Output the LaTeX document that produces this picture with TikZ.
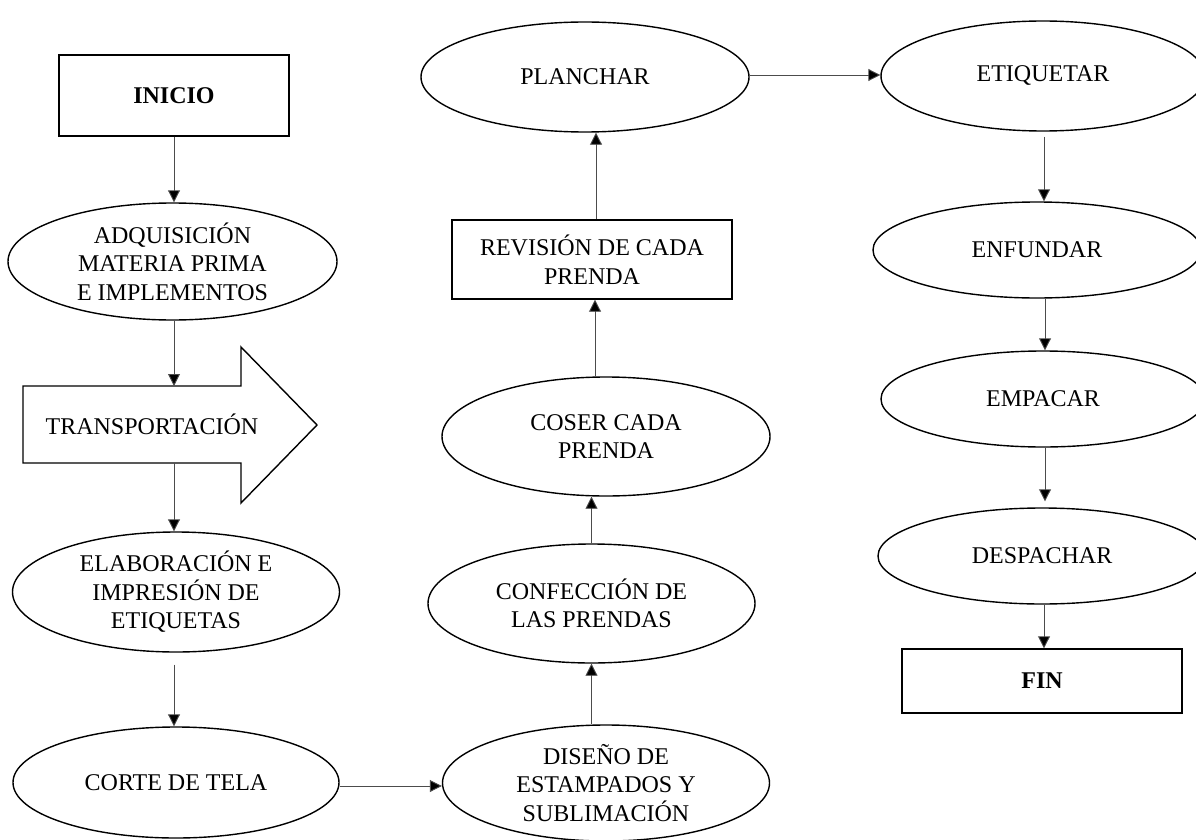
\documentclass[tikz,border=0pt]{standalone}
\usepackage{fontspec}
\setmainfont{Liberation Serif}
\usetikzlibrary{shapes.geometric,arrows.meta}
\begin{document}
\begin{tikzpicture}[x=1pt,y=-1pt,
  every node/.style={font=\fontsize{24}{28.5}\selectfont, align=center, inner sep=0pt},
  ell/.style={draw, ellipse, line width=1.4pt},
  box/.style={draw, rectangle, line width=1.4pt},
  arr/.style={draw=black!70, line width=0.9pt, -{Triangle[length=12pt,width=12pt,fill=black]}}]
\useasboundingbox (0,0) rectangle (1196,840);
\begin{scope}
\clip (0,0) rectangle (1196,840);
% left column
\node[box, minimum width=230, minimum height=81] (inicio) at (174,95.5) {\textbf{INICIO}};
\node[ell, minimum width=329, minimum height=117] (adq) at (172.5,261.5) {ADQUISICIÓN\\MATERIA PRIMA\\E IMPLEMENTOS};
\draw[line width=1.4pt, line join=miter] (23,386) -- (241,386) -- (241,347) -- (317,425) -- (241,503) -- (241,463) -- (23,463) -- cycle;
\node (tr) at (152,424) {TRANSPORTACIÓN};
\coordinate (trN) at (174,386);
\coordinate (trS) at (174,463);
\node[ell, minimum width=327, minimum height=120] (elab) at (176,592) {ELABORACIÓN E\\IMPRESIÓN DE\\ETIQUETAS};
\node[ell, minimum width=326, minimum height=111] (corte) at (176,782.5) {CORTE DE TELA};
% middle column
\node[ell, minimum width=327, minimum height=116] (dis) at (606,783) {DISEÑO DE\\ESTAMPADOS Y\\SUBLIMACIÓN};
\node[ell, minimum width=327, minimum height=119] (conf) at (591.5,603.5) {CONFECCIÓN DE\\LAS PRENDAS};
\node[ell, minimum width=328, minimum height=119] (coser) at (606,436.5) {COSER CADA\\PRENDA};
\node[box, minimum width=280, minimum height=79] (rev) at (592,259.5) {REVISIÓN DE CADA\\PRENDA};
\node[ell, minimum width=328, minimum height=110] (plan) at (585,77) {PLANCHAR};
% right column
\node[ell, minimum width=324, minimum height=110] (etiq) at (1043,76) {ETIQUETAR};
\node[ell, minimum width=328, minimum height=96] (enf) at (1037,250) {ENFUNDAR};
\node[ell, minimum width=324, minimum height=96] (emp) at (1043,399) {EMPACAR};
\node[ell, minimum width=328, minimum height=96] (desp) at (1042,556) {DESPACHAR};
\node[box, minimum width=280, minimum height=64] (fin) at (1042,681) {\textbf{FIN}};
% connectors
\draw[arr] (inicio.south) -- (inicio.south |- adq.north);
\draw[arr] (adq.south -| trN) -- (trN);
\draw[arr] (trS) -- (trS |- elab.north);
\draw[arr] ([yshift=-12pt]elab.south -| trS) -- (trS |- corte.north);
\draw[arr] (corte.east |- 0,786) -- (dis.west |- 0,786);
\draw[arr] (conf.south |- dis.north) -- (conf.south);
\draw[arr] (conf.north) -- (conf.north |- coser.south);
\draw[arr] (coser.north -| 595,0) -- (rev.south -| 595,0);
\draw[arr] (rev.north -| 596,0) -- (plan.south -| 596,0);
\draw[arr] (plan.east |- 0,75) -- (etiq.west |- 0,75);
\draw[arr] ([yshift=-5pt]etiq.south -| 1044,0) -- (enf.north -| 1044,0);
\draw[arr] (enf.south -| 1045,0) -- (emp.north -| 1045,0);
\draw[arr] (emp.south -| 1045,0) -- ([yshift=6pt]desp.north -| 1045,0);
\draw[arr] (desp.south -| 1044,0) -- (fin.north -| 1044,0);
\end{scope}
\end{tikzpicture}
\end{document}
